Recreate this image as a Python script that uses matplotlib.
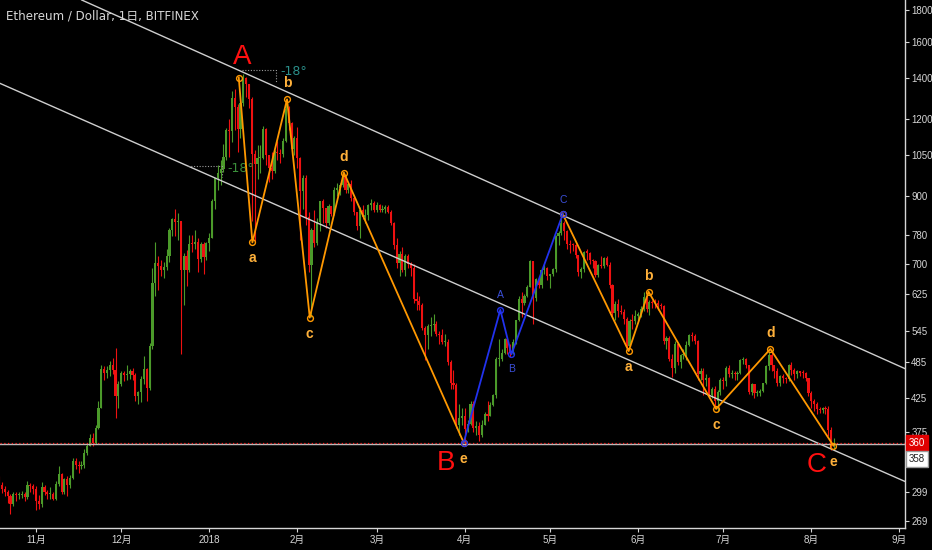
import numpy as np
import pandas as pd
import matplotlib
matplotlib.use("Agg")
import matplotlib.pyplot as plt
import matplotlib.transforms as mtrans
from matplotlib import font_manager as fm

# ---------------- data ----------------
start_date = "2017-10-19"
first_open = 315
closes = [
    # Oct 19-31
    308, 303, 300, 295, 286, 297, 296, 296, 297, 294, 307, 306, 303,
    # Nov
    290, 286, 305, 300, 297, 297, 292, 309, 320, 299, 314, 307, 316, 336, 331,
    330, 331, 346, 355, 366, 360, 380, 410, 474, 466, 471, 480, 472, 428, 447,
    # Dec
    466, 463, 465, 470, 463, 428, 434, 456, 473, 441, 515, 651, 702, 695, 684, 693,
    720, 794, 827, 819, 821, 685, 720, 683, 754, 753, 760, 713, 753, 717, 756,
    # Jan
    772, 884, 962, 980, 997, 1041, 1153, 1148, 1299, 1255, 1154, 1273, 1396, 1366, 1292,
    1054, 1015, 1036, 1039, 1155, 1049, 999, 987, 1059, 1056, 1055, 1107, 1247, 1182, 1074, 1118,
    # Feb
    1036, 917, 965, 834, 697, 793, 757, 817, 884, 861, 816, 867, 842, 921,
    927, 939, 973, 923, 943, 894, 850, 806, 855, 833, 840, 870, 878, 856,
    # Mar
    870, 856, 857, 866, 850, 815, 751, 701, 726, 683, 721, 699, 690, 614, 610, 601,
    552, 538, 555, 557, 560, 540, 538, 523, 523, 486, 450, 446, 385, 394, 397,
    # Apr
    379, 386, 416, 380, 383, 370, 385, 400, 398, 414, 430, 492, 492, 502, 530,
    511, 502, 524, 567, 615, 606, 621, 643, 707, 616, 661, 646, 683, 690, 670,
    # May
    673, 687, 777, 785, 816, 792, 753, 752, 751, 723, 680, 686, 731, 730, 709, 708,
    671, 696, 694, 715, 698, 648, 582, 602, 588, 586, 570, 516, 566, 565, 577,
    # Jun
    580, 591, 619, 592, 608, 606, 604, 600, 598, 526, 531, 492, 475, 520, 486,
    498, 500, 518, 537, 536, 526, 465, 470, 455, 457, 430, 440, 420, 435, 455,
    # Jul
    453, 475, 464, 467, 465, 467, 489, 492, 481, 435, 448, 433, 433, 436, 449, 478,
    499, 480, 469, 449, 461, 458, 456, 480, 471, 464, 470, 467, 466, 457, 433,
    # Aug 1-9
    421, 415, 408, 407, 409, 408, 377, 356, 360,
]
highs = [
    318, 311, 306, 302, 297, 300, 300, 300, 301, 299, 312, 310, 309,
    306, 296, 311, 308, 302, 305, 300, 312, 330, 322, 316, 318, 319, 340, 340,
    336, 336, 352, 358, 372, 373, 384, 420, 480, 478, 478, 488, 494, 512, 452,
    470, 470, 480, 474, 475, 466, 436, 462, 496, 475, 522, 688, 760, 720, 710, 704,
    740, 800, 830, 860, 845, 822, 730, 736, 780, 780, 795, 772, 760, 760, 760,
    785, 890, 965, 1010, 1030, 1095, 1160, 1200, 1330, 1340, 1270, 1280, 1418, 1405, 1360,
    1300, 1070, 1090, 1090, 1170, 1160, 1050, 1060, 1070, 1105, 1075, 1120, 1270, 1260, 1185, 1125,
    1165, 1040, 975, 975, 850, 800, 855, 830, 885, 890, 862, 875, 868, 930,
    945, 945, 985, 975, 950, 955, 905, 850, 865, 870, 860, 875, 890, 885,
    880, 875, 870, 870, 870, 855, 818, 770, 735, 745, 725, 726, 705, 700, 630, 620,
    605, 555, 560, 575, 580, 565, 545, 550, 540, 530, 490, 472, 450, 415, 410,
    410, 392, 420, 420, 390, 388, 392, 404, 420, 418, 432, 495, 530, 510, 532,
    534, 520, 530, 569, 620, 630, 625, 647, 710, 708, 665, 670, 690, 700, 692,
    675, 690, 780, 790, 840, 820, 795, 765, 757, 755, 724, 693, 735, 740, 732, 712,
    710, 700, 720, 719, 720, 705, 650, 610, 615, 600, 592, 575, 570, 580, 590,
    585, 598, 630, 625, 612, 612, 614, 612, 605, 600, 535, 535, 500, 525, 522,
    500, 510, 525, 540, 544, 540, 528, 475, 475, 465, 460, 442, 445, 438, 458,
    460, 478, 480, 472, 470, 470, 492, 495, 493, 481, 450, 446, 438, 440, 450, 480,
    505, 504, 480, 475, 463, 465, 460, 482, 485, 475, 472, 470, 472, 468, 458,
    436, 423, 418, 411, 411, 412, 412, 381, 366,
]
lows = [
    302, 298, 295, 288, 276, 284, 290, 292, 293, 290, 292, 300, 297,
    280, 281, 283, 296, 292, 292, 291, 291, 306, 297, 297, 295, 304, 314, 326,
    322, 326, 328, 344, 355, 355, 358, 378, 409, 455, 458, 462, 464, 395, 410,
    444, 452, 455, 456, 455, 420, 415, 418, 447, 420, 438, 510, 622, 635, 670, 665,
    685, 706, 775, 775, 765, 500, 600, 645, 680, 732, 740, 680, 705, 675, 710,
    735, 770, 858, 920, 940, 985, 1030, 1040, 1100, 1150, 1060, 1120, 1260, 1300, 1250,
    820, 760, 960, 980, 1035, 1010, 950, 960, 980, 1030, 1020, 1040, 1100, 1150, 1050, 1050,
    1000, 765, 860, 810, 680, 575, 745, 750, 790, 815, 800, 810, 835, 840,
    900, 905, 930, 910, 910, 885, 840, 795, 770, 828, 815, 825, 855, 850,
    850, 850, 848, 845, 845, 810, 740, 690, 670, 680, 670, 690, 670, 605, 590, 590,
    548, 490, 510, 535, 545, 535, 520, 520, 515, 480, 440, 440, 380, 370, 385,
    355, 375, 385, 375, 370, 362, 368, 384, 390, 397, 413, 425, 478, 488, 500,
    500, 495, 500, 520, 565, 575, 600, 618, 642, 560, 610, 640, 640, 675, 658,
    640, 670, 680, 750, 780, 765, 740, 730, 735, 715, 670, 664, 678, 710, 700, 690,
    666, 666, 690, 690, 695, 640, 575, 568, 575, 580, 560, 508, 515, 550, 560,
    565, 575, 588, 585, 578, 595, 594, 590, 592, 520, 510, 488, 460, 467, 480,
    475, 492, 490, 515, 525, 520, 455, 455, 430, 445, 425, 425, 410, 405, 430,
    440, 445, 459, 458, 455, 454, 464, 483, 476, 432, 430, 425, 428, 428, 434, 447,
    472, 470, 458, 445, 445, 450, 449, 452, 463, 455, 458, 461, 458, 452, 428,
    410, 405, 400, 402, 402, 400, 369, 350, 352,
]

# Axis ticks / labels
price_ticks = [269, 299, 375, 425, 485, 545, 625, 700, 780, 900, 1050, 1200, 1400, 1600, 1800]
month_starts = ["2017-11-01", "2017-12-01", "2018-01-01", "2018-02-01", "2018-03-01",
                "2018-04-01", "2018-05-01", "2018-06-01", "2018-07-01", "2018-08-01", "2018-09-01"]
month_labels = ["11月", "12月", "2018", "2月", "3月", "4月", "5月", "6月", "7月", "8月", "9月"]
title_text = "Ethereum / Dollar, 1日, BITFINEX"
last_price = 360
line_price = 358

# Drawings (day offset from 2017-11-01, price)
channel_upper_x = [16.1, 306.0]
channel_upper_y = [1868, 474]
channel_lower_x = [-12.7, 306.0]
channel_lower_y = [1370, 311.5]

wave1_x = [71.4, 76.2, 88.4, 96.4, 108.4, 150.6]
wave1_y = [1400, 758, 1291, 573, 983, 360]
wave1_labels = ["", "a", "b", "c", "d", "e"]
wave1_dirs = [0, -1, 1, -1, 1, -1]

blue_x = [150.6, 163.5, 167.4, 185.5]
blue_y = [360, 590, 500, 842]
blue_labels = ["", "A", "B", "C"]
blue_dirs = [0, 1, -1, 1]

wave2_x = [185.5, 208.7, 215.7, 239.5, 258.6, 280.8]
wave2_y = [842, 506, 631, 408, 510, 356]
wave2_labels = ["", "a", "b", "c", "d", "e"]
wave2_dirs = [0, -1, 1, -1, 1, -1]

big_labels = ["A", "B", "C"]
big_x = [72.5, 144.3, 274.8]
big_y = [1510, 333.7, 331]

angle1_x = [72.4, 84.4, 84.4]
angle1_y = [1440, 1440, 1372]
angle1_text = (85.9, 1432)
angle2_x = [53.5, 65.4, 65.4]
angle2_y = [1007, 1007, 967]
angle2_text = (67.4, 998)

# ---------------- fonts ----------------
avail = {f.name for f in fm.fontManager.ttflist}
if "Liberation Sans Narrow" in avail:
    narrow, axis_fs = "Liberation Sans Narrow", 8
elif "DejaVu Sans Condensed" in avail:
    narrow, axis_fs = "DejaVu Sans Condensed", 7
else:
    narrow, axis_fs = "Liberation Sans", 7
axis_fam = [narrow, "Noto Sans CJK SC"]
title_fam = ["DejaVu Sans", "Noto Sans CJK JP"]

# ---------------- derived ----------------
dates = pd.date_range(start_date, periods=len(closes), freq="D")
ref = pd.Timestamp("2017-11-01")
xs = np.array((dates - ref).days, dtype=float)
closes_a = np.array(closes, float)
opens_a = np.concatenate([[first_open], closes_a[:-1]])
highs_a = np.maximum(np.array(highs, float), np.maximum(opens_a, closes_a))
lows_a = np.minimum(np.array(lows, float), np.minimum(opens_a, closes_a))
up = closes_a >= opens_a

GREEN = "#4b9a2a"
RED = "#ee1111"
FG = "#d6d6d6"
ORANGE = "#ff9800"
ORANGE_T = "#ffb13b"
BLUE = "#2232ee"
BLUE_T = "#3b4fd8"

fig = plt.figure(figsize=(9.32, 5.5), dpi=100, facecolor="black")
ax = fig.add_axes([0, 22 / 550, 905 / 932, 528 / 550])
ax.set_facecolor("black")
ax.set_yscale("log")
ax.set_xlim(-12.68, 306.0)
ax.set_ylim(262.0, 1868.0)

# candles
colors = np.where(up, GREEN, RED)
ax.vlines(xs, lows_a, highs_a, colors=colors, linewidth=0.8, zorder=2)
body_bot = np.minimum(opens_a, closes_a)
body_top = np.maximum(opens_a, closes_a)
body_top = np.maximum(body_top, body_bot * 1.004)
ax.bar(xs, body_top - body_bot, bottom=body_bot, width=0.75, color=colors,
       linewidth=0, zorder=3)

# channel lines
ax.plot(channel_upper_x, channel_upper_y, color="#cfcfcf", lw=1.0, zorder=4)
ax.plot(channel_lower_x, channel_lower_y, color="#cfcfcf", lw=1.0, zorder=4)

# horizontal lines
ax.axhline(line_price, color="#bdbdbd", lw=1.0, zorder=4)
ax.axhline(last_price, color="#ff2222", lw=0.9, ls=(0, (1, 2)), zorder=4)

# angle annotations
ax.plot(angle1_x, angle1_y, color="#9a9a9a", lw=0.8, ls=(0, (1, 1.5)), zorder=5)
ax.plot(angle2_x, angle2_y, color="#9a9a9a", lw=0.8, ls=(0, (1, 1.5)), zorder=5)
ax.text(angle1_text[0], angle1_text[1], "-18°", color="#2b8f8a", fontsize=9,
        va="center", ha="left", family="DejaVu Sans", zorder=6)
ax.text(angle2_text[0], angle2_text[1], "-18°", color="#3a8f3a", fontsize=9,
        va="center", ha="left", family="DejaVu Sans", zorder=6)


def draw_wave(wx, wy, labels, dirs, lc, tc, fs, off):
    ax.plot(wx, wy, color=lc, lw=1.3, zorder=6)
    ax.plot(wx, wy, ls="none", marker="o", ms=4.2, mfc="none", mec=lc, mew=1.0, zorder=7)
    for x, y, lab, d in zip(wx, wy, labels, dirs):
        if not lab:
            continue
        ax.annotate(lab, xy=(x, y), xytext=(0, off * d), textcoords="offset points",
                    ha="center", va="center", color=tc, fontsize=fs,
                    family="Liberation Sans", fontweight="bold", zorder=8)


draw_wave(wave1_x, wave1_y, wave1_labels, wave1_dirs, ORANGE, ORANGE_T, 10, 11.5)
draw_wave(wave2_x, wave2_y, wave2_labels, wave2_dirs, ORANGE, ORANGE_T, 10, 11.5)
ax.plot(blue_x, blue_y, color=BLUE, lw=1.3, zorder=6)
ax.plot(blue_x, blue_y, ls="none", marker="o", ms=4.2, mfc="none", mec=BLUE, mew=1.0, zorder=7)
for x, y, lab, d in zip(blue_x, blue_y, blue_labels, blue_dirs):
    if lab:
        ax.annotate(lab, xy=(x, y), xytext=(0, 10.5 * d), textcoords="offset points",
                    ha="center", va="center", color=BLUE_T, fontsize=7.5,
                    family="Liberation Sans", zorder=8)

for lab, x, y in zip(big_labels, big_x, big_y):
    ax.text(x, y, lab, color="#ff1010", fontsize=20, ha="center", va="center",
            family="Liberation Sans", zorder=8)

# title
ax.text(6 / 905, 1 - 16 / 528, title_text, transform=ax.transAxes, color="#d6d6d6",
        fontsize=8.6, family=title_fam, va="center", ha="left", zorder=9)

# axes styling
for s in ["top", "left"]:
    ax.spines[s].set_visible(False)
for s in ["right", "bottom"]:
    ax.spines[s].set_color(FG)
    ax.spines[s].set_linewidth(1.0)
ax.yaxis.tick_right()
ax.yaxis.set_label_position("right")
ax.set_yticks(price_ticks)
ax.set_yticklabels([str(t) for t in price_ticks])
ax.yaxis.set_minor_locator(matplotlib.ticker.NullLocator())
ax.tick_params(axis="y", which="major", colors=FG, length=3, width=0.8, pad=1.5,
               labelsize=axis_fs)
for lab in ax.get_yticklabels():
    lab.set_family(axis_fam)

mx = [(pd.Timestamp(d) - ref).days for d in month_starts]
ax.set_xticks(mx)
ax.set_xticklabels(month_labels)
ax.tick_params(axis="x", colors=FG, length=3, width=0.8, pad=2, labelsize=axis_fs)
for lab in ax.get_xticklabels():
    lab.set_family(axis_fam)

# price boxes on the axis
bt = mtrans.blended_transform_factory(ax.transAxes, ax.transData)
ax.annotate(str(last_price), xy=(1.0, last_price), xycoords=bt, xytext=(2.5, 0),
            textcoords="offset points", ha="left", va="center", color="white",
            fontsize=axis_fs, family=axis_fam, annotation_clip=False,
            bbox=dict(boxstyle="square,pad=0.3", fc="#e00000", ec="#e00000"))
ax.annotate(str(line_price), xy=(1.0, line_price), xycoords=bt, xytext=(2.5, -11),
            textcoords="offset points", ha="left", va="center", color="#222222",
            fontsize=axis_fs, family=axis_fam, annotation_clip=False,
            bbox=dict(boxstyle="square,pad=0.3", fc="white", ec="#999999"))

fig.savefig("out.png", dpi=100, facecolor="black")
